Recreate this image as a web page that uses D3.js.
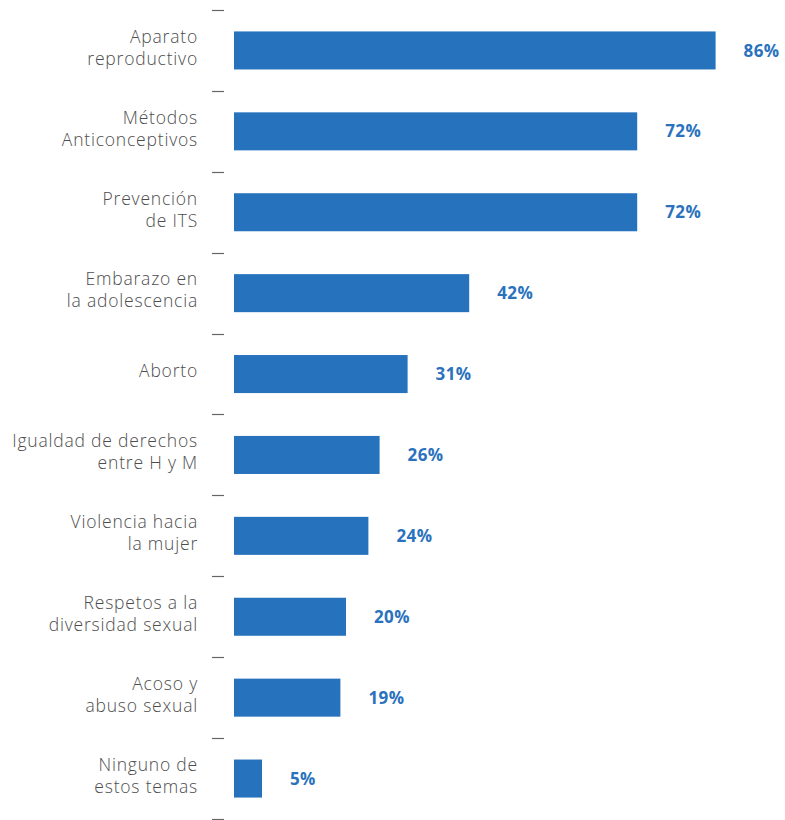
<!DOCTYPE html>
<html>
<head>
<meta charset="utf-8">
<script src="https://cdn.jsdelivr.net/npm/d3@7"></script>
<style>
  body { margin: 0; background: #fff; }
  #chart { width: 785px; height: 820px; }
</style>
</head>
<body>
<div id="chart"></div>
<script>
// categorías (cada una en dos líneas como en el original)
const categories = [
  ["Aparato", "reproductivo"],
  ["Métodos", "Anticonceptivos"],
  ["Prevención", "de ITS"],
  ["Embarazo en", "la adolescencia"],
  ["Aborto"],
  ["Igualdad de derechos", "entre H y M"],
  ["Violencia hacia", "la mujer"],
  ["Respetos a la", "diversidad sexual"],
  ["Acoso y", "abuso sexual"],
  ["Ninguno de", "estos temas"]
];
const values = [86, 72, 72, 42, 31, 26, 24, 20, 19, 5];
const valueLabels = ["86%", "72%", "72%", "42%", "31%", "26%", "24%", "20%", "19%", "5%"];

const width = 785, height = 820;
const barColor = "#2672bd";
const labelColor = "#2a72bd";
const textColor = "#4d4d4d";

const svg = d3.select("#chart").append("svg")
  .attr("width", width)
  .attr("height", height);

const keys = categories.map(d => d.join(" "));
const pad = 0.53;

const y = d3.scaleBand()
  .domain(keys)
  .range([10, 819])
  .paddingInner(pad)
  .paddingOuter(pad / 2);

const x = d3.scaleLinear()
  .domain([0, 100])
  .range([234, 794]);

// marcas del eje (límites entre categorías)
const tickYs = keys.map(k => y(k) - y.step() * pad / 2).concat([y.range()[1]]);
svg.selectAll("line.tick")
  .data(tickYs).enter()
  .append("line")
  .attr("class", "tick")
  .attr("x1", 212).attr("x2", 224)
  .attr("y1", d => Math.round(d) + 0.5)
  .attr("y2", d => Math.round(d) + 0.5)
  .attr("stroke", "#666")
  .attr("stroke-width", 1.2);

// barras
svg.selectAll("rect.bar")
  .data(values).enter()
  .append("rect")
  .attr("class", "bar")
  .attr("x", x(0))
  .attr("y", (d, i) => y(keys[i]))
  .attr("width", d => x(d) - x(0))
  .attr("height", y.bandwidth())
  .attr("fill", barColor);

// etiquetas de valor
svg.selectAll("text.value")
  .data(values).enter()
  .append("text")
  .attr("class", "value")
  .attr("x", d => x(d) + 28)
  .attr("y", (d, i) => y(keys[i]) + y.bandwidth() / 2)
  .attr("dy", "0.36em")
  .attr("fill", labelColor)
  .style("font-family", "'Open Sans', sans-serif")
  .style("font-weight", "bold")
  .style("font-size", "17px")
  .style("letter-spacing", "0.4px")
  .text((d, i) => valueLabels[i]);

// etiquetas de categoría
const catText = svg.selectAll("text.cat")
  .data(categories).enter()
  .append("text")
  .attr("class", "cat")
  .attr("text-anchor", "end")
  .attr("fill", textColor)
  .style("font-family", "'Open Sans', sans-serif")
  .style("font-weight", 300)
  .style("font-size", "17.5px")
  .style("letter-spacing", "0.8px")
  .attr("transform", (d, i) => `translate(198,${y(keys[i]) + y.bandwidth() / 2 - 3})`);

catText.selectAll("tspan")
  .data(d => d.map((line, j) => ({ line, j, n: d.length })))
  .enter().append("tspan")
  .attr("x", 0)
  .attr("y", d => (d.j - (d.n - 1) / 2) * 22)
  .attr("dy", "0.36em")
  .text(d => d.line);
</script>
</body>
</html>
